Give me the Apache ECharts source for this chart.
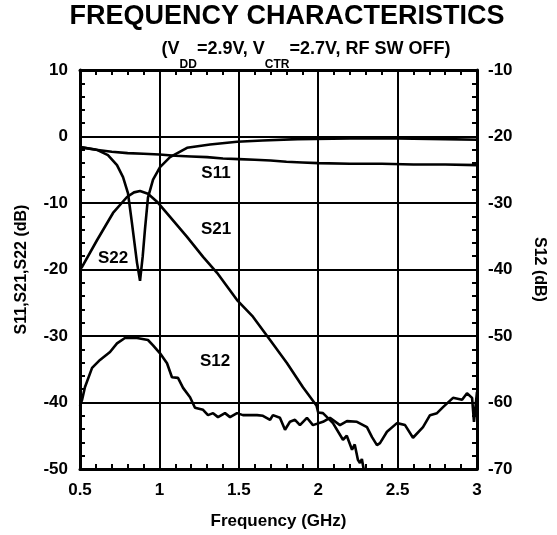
<!DOCTYPE html>
<html><head><meta charset="utf-8">
<script src="https://cdn.jsdelivr.net/npm/echarts@6/dist/echarts.min.js"></script>
<style>html,body{margin:0;padding:0;background:#fff}#c{width:557px;height:535px}</style>
</head><body><div id="c"></div>
<script>
// ---- data ----
const xTicks = [0.5, 1, 1.5, 2, 2.5, 3];
const leftTicks = [10, 0, -10, -20, -30, -40, -50];
const rightTicks = [-10, -20, -30, -40, -50, -60, -70];

const s11Freq = [0.5,0.6,0.7,0.8,0.9,1.0,1.1,1.2,1.3,1.4,1.5,1.6,1.7,1.8,1.9,2.0,2.2,2.4,2.6,2.8,3.0];
const s11Val  = [-1.6,-2.0,-2.3,-2.5,-2.6,-2.7,-2.9,-3.0,-3.1,-3.3,-3.4,-3.5,-3.6,-3.8,-3.9,-4.0,-4.1,-4.1,-4.2,-4.2,-4.3];

const s22Freq = [0.5,0.607,0.676,0.733,0.771,0.802,0.827,0.859,0.878,0.895,0.909,0.928,0.96,1.004,1.067,1.174,1.319,1.489,1.65,1.87,2.2,2.5,2.8,3.0];
const s22Val  = [-1.6,-2.0,-2.8,-4.3,-6.1,-8.5,-13,-19,-21.7,-18,-14,-9.2,-6.5,-4.6,-3.1,-1.7,-1.2,-0.8,-0.6,-0.4,-0.3,-0.3,-0.4,-0.5];

const s21Freq = [0.5,0.513,0.607,0.708,0.796,0.84,0.878,0.928,0.985,1.067,1.174,1.275,1.363,1.489,1.589,1.697,1.804,1.904,1.99,2.0,2.03,2.093,2.156,2.18,2.213,2.23,2.25,2.263,2.275,2.29,2.31];
const s21Val  = [-20,-19.6,-15.6,-11.5,-9.1,-8.4,-8.2,-8.6,-9.8,-12.1,-15.1,-18.1,-20.5,-24.6,-27.1,-30.6,-34.1,-37.7,-40.5,-41.5,-41.6,-43.1,-45.6,-45.0,-47.1,-46.3,-48.6,-49.1,-48.5,-50.5,-52];

const s12Freq = [0.5,0.513,0.531,0.576,0.626,0.689,0.733,0.783,0.859,0.928,0.960,1.004,1.048,1.079,1.117,1.149,1.193,1.224,1.275,1.306,1.338,1.369,1.413,1.445,1.489,1.526,1.615,1.652,1.697,1.715,1.759,1.791,1.822,1.854,1.885,1.929,1.967,2.030,2.074,2.137,2.181,2.244,2.307,2.339,2.370,2.389,2.433,2.496,2.547,2.597,2.660,2.704,2.748,2.786,2.849,2.906,2.937,2.969,2.981,3.0];
const s12Val  = [-60.5,-59.6,-57.7,-54.8,-53.6,-52.4,-51.1,-50.3,-50.3,-50.6,-51.4,-52.6,-54.1,-56.2,-56.3,-57.8,-59.2,-60.8,-61.1,-61.9,-61.6,-62.2,-61.6,-62.2,-61.6,-61.9,-61.9,-62.0,-62.6,-61.9,-62.3,-64.1,-62.9,-62.6,-63.4,-62.3,-63.4,-62.9,-62.3,-63.4,-62.8,-62.9,-63.7,-65.2,-66.4,-66.1,-64.4,-63.1,-63.4,-65.3,-63.7,-61.9,-61.6,-60.7,-59.3,-59.6,-58.6,-59.3,-62.9,-58.4];

const seriesLabels = ['S11', 'S21', 'S22', 'S12'];

function pairs(xs, ys) { return xs.map((x, i) => [x, ys[i]]); }

const chart = echarts.init(document.getElementById('c'), null, {renderer: 'canvas'});
const FONT = 'Liberation Sans, Arial, sans-serif';
const lbl = {color: '#000', fontFamily: FONT, fontWeight: 'bold', fontSize: 17};

const lineStyle = {color: '#000', width: 2.6};
function mkSeries(name, xs, ys, yIdx) {
  return {name, type: 'line', xAxisIndex: 0, yAxisIndex: yIdx, data: pairs(xs, ys),
    showSymbol: false, symbol: 'none', lineStyle, clip: true, z: 5};
}
const minor = {show: true, splitNumber: 5, length: 5, lineStyle: {color: '#000', width: 2}};
const axLine = {show: true, onZero: false, lineStyle: {color: '#000', width: 3}};

chart.setOption({
  animation: false,
  backgroundColor: '#fff',
  grid: {left: 80, right: 80, top: 70, bottom: 66, containLabel: false},
  xAxis: [{
    type: 'value', min: 0.5, max: 3, interval: 0.5, position: 'bottom',
    axisLine: axLine, axisTick: {show: false, inside: true}, minorTick: minor,
    splitLine: {show: true, lineStyle: {color: '#000', width: 2}},
    axisLabel: Object.assign({margin: 13, formatter: v => String(v)}, lbl),
    name: 'Frequency (GHz)', nameLocation: 'middle', nameGap: 44,
    nameTextStyle: {color: '#000', fontFamily: FONT, fontWeight: 'bold', fontSize: 17}
  }, {
    type: 'value', min: 0.5, max: 3, interval: 0.5, position: 'top',
    axisLine: axLine, axisTick: {show: false, inside: true}, minorTick: minor,
    splitLine: {show: false}, axisLabel: {show: false}
  }],
  yAxis: [{
    type: 'value', min: -50, max: 10, interval: 10, position: 'left',
    axisLine: axLine, axisTick: {show: false, inside: true}, minorTick: minor,
    splitLine: {show: true, lineStyle: {color: '#000', width: 2}},
    axisLabel: Object.assign({margin: 12, padding: [10, 0, 0, 0]}, lbl),
    name: 'S11,S21,S22 (dB)', nameLocation: 'middle', nameGap: 50, nameRotate: 90,
    nameTextStyle: {color: '#000', fontFamily: FONT, fontWeight: 'bold', fontSize: 16}
  }, {
    type: 'value', min: -70, max: -10, interval: 10, position: 'right',
    axisLine: axLine, axisTick: {show: false, inside: true}, minorTick: minor,
    splitLine: {show: false},
    axisLabel: Object.assign({margin: 11, padding: [10, 0, 0, 0]}, lbl),
    name: 'S12 (dB)', nameLocation: 'middle', nameGap: 54, nameRotate: -90,
    nameTextStyle: {color: '#000', fontFamily: FONT, fontWeight: 'bold', fontSize: 16}
  }],
  series: [
    mkSeries('S11', s11Freq, s11Val, 0),
    mkSeries('S22', s22Freq, s22Val, 0),
    mkSeries('S21', s21Freq, s21Val, 0),
    mkSeries('S12', s12Freq, s12Val, 1)
  ],
  graphic: [
    {type: 'text', x: 287, y: 3, style: {text: 'FREQUENCY CHARACTERISTICS', fill: '#000', font: 'bold 27px ' + FONT, align: 'center'}},
    {type: 'text', x: 306, y: 27, style: {
      text: '{m|(V}{s|DD}{m|=2.9V, V}{s|CTR}{m|=2.7V, RF SW OFF)}', align: 'center',
      rich: {
        m: {fill: '#000', fontFamily: FONT, fontWeight: 'bold', fontSize: 18, lineHeight: 44, verticalAlign: 'middle'},
        s: {fill: '#000', fontFamily: FONT, fontWeight: 'bold', fontSize: 12, lineHeight: 13, verticalAlign: 'bottom'}
      }}},
    {type: 'text', x: 216, y: 173, style: {text: seriesLabels[0], fill: '#000', font: 'bold 17px ' + FONT, align: 'center', verticalAlign: 'middle'}},
    {type: 'text', x: 216, y: 229, style: {text: seriesLabels[1], fill: '#000', font: 'bold 17px ' + FONT, align: 'center', verticalAlign: 'middle'}},
    {type: 'text', x: 113, y: 258, style: {text: seriesLabels[2], fill: '#000', font: 'bold 17px ' + FONT, align: 'center', verticalAlign: 'middle'}},
    {type: 'text', x: 215, y: 361, style: {text: seriesLabels[3], fill: '#000', font: 'bold 17px ' + FONT, align: 'center', verticalAlign: 'middle'}}
  ]
});
</script></body></html>
